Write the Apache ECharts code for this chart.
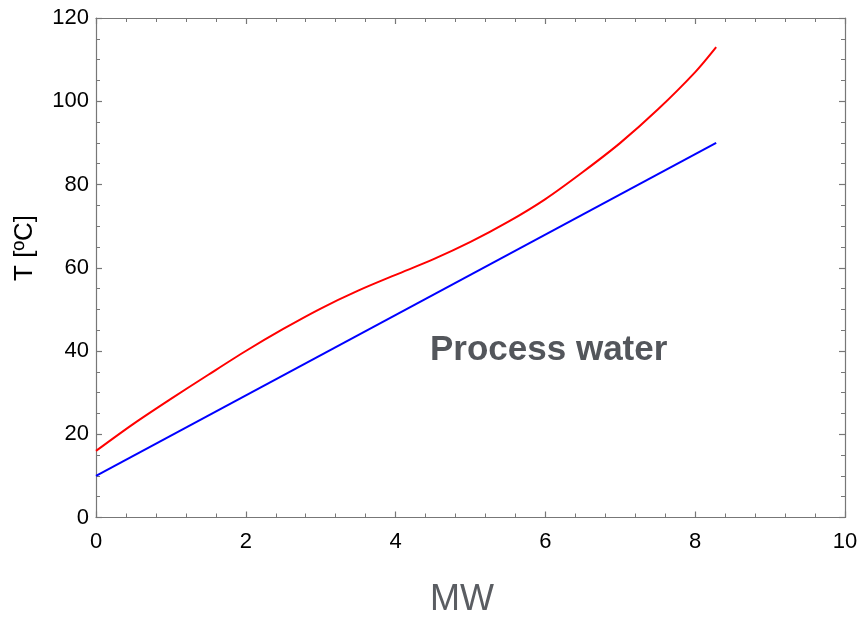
<!DOCTYPE html>
<html>
<head>
<meta charset="utf-8">
<script src="https://cdn.jsdelivr.net/npm/echarts@6/dist/echarts.min.js"></script>
<style>
  html, body { margin: 0; padding: 0; background: #fff; }
  #chart { width: 861px; height: 620px; }
</style>
</head>
<body>
<div id="chart"></div>
<script>
// Heat load (MW) on x, temperature on y
const mwPoints = [0, 0.5, 1, 1.5, 2, 2.5, 3, 3.5, 4, 4.5, 5, 5.5, 6, 6.5, 7, 7.5, 8, 8.28];
const hotSideTemps = [16, 22.5, 28.5, 34.3, 40, 45.3, 50.2, 54.5, 58.3, 62, 66.2, 71, 76.5, 83, 90, 98, 107, 113];
const waterMw = [0, 8.28];
const waterTemps = [10, 90];

const xTicks = { min: 0, max: 10, interval: 2 };
const yTicks = { min: 0, max: 120, interval: 20 };

const frameColor = '#777';
const labelFont = { fontFamily: 'Liberation Sans, Arial, sans-serif', fontSize: 22, color: '#000' };

function frameAxis(extra) {
  return Object.assign({
    type: 'value',
    axisLine: { show: true, onZero: false, lineStyle: { color: frameColor, width: 1.2 } },
    axisTick: { show: true, inside: true, length: 6, lineStyle: { color: frameColor, width: 1.2 } },
    splitLine: { show: false },
    minorSplitLine: { show: false }
  }, extra);
}

const chart = echarts.init(document.getElementById('chart'), null, { renderer: 'canvas' });

chart.setOption({
  animation: false,
  backgroundColor: '#fff',
  grid: { left: 96, top: 18, width: 749, height: 499.5 },
  xAxis: [
    frameAxis(Object.assign({}, xTicks, {
      position: 'bottom',
      minorTick: { show: true, splitNumber: 5, length: 4, lineStyle: { color: frameColor, width: 1 } },
      axisLabel: Object.assign({ margin: 13 }, labelFont)
    })),
    frameAxis(Object.assign({}, xTicks, {
      position: 'top',
      minorTick: { show: true, splitNumber: 5, length: 4, lineStyle: { color: frameColor, width: 1 } },
      axisLabel: { show: false }
    }))
  ],
  yAxis: [
    frameAxis(Object.assign({}, yTicks, {
      position: 'left',
      minorTick: { show: true, splitNumber: 4, length: 4, lineStyle: { color: frameColor, width: 1 } },
      axisLabel: Object.assign({ margin: 7 }, labelFont)
    })),
    frameAxis(Object.assign({}, yTicks, {
      position: 'right',
      minorTick: { show: true, splitNumber: 4, length: 4, lineStyle: { color: frameColor, width: 1 } },
      axisLabel: { show: false }
    }))
  ],
  series: [
    {
      type: 'line',
      xAxisIndex: 0,
      yAxisIndex: 0,
      data: mwPoints.map((x, i) => [x, hotSideTemps[i]]),
      smooth: 0.3,
      showSymbol: false,
      lineStyle: { color: '#ff0000', width: 2 }
    },
    {
      type: 'line',
      xAxisIndex: 0,
      yAxisIndex: 0,
      data: waterMw.map((x, i) => [x, waterTemps[i]]),
      showSymbol: false,
      lineStyle: { color: '#0000ff', width: 2 }
    }
  ],
  graphic: [
    {
      type: 'text',
      left: 430,
      top: 333,
      style: {
        text: 'Process water',
        fontFamily: 'Liberation Sans, Arial, sans-serif',
        fontWeight: 'bold',
        fontSize: 35,
        fill: '#53565b'
      }
    },
    {
      type: 'text',
      x: 462,
      y: 600,
      style: {
        text: 'MW',
        fontFamily: 'Liberation Sans, Arial, sans-serif',
        fontSize: 36,
        fill: '#5a5d62',
        align: 'center',
        verticalAlign: 'middle'
      }
    },
    {
      type: 'text',
      x: 25,
      y: 248,
      rotation: Math.PI / 2,
      style: {
        text: 'T [ºC]',
        fontFamily: 'Liberation Sans, Arial, sans-serif',
        fontSize: 26,
        fill: '#000',
        align: 'center',
        verticalAlign: 'middle'
      }
    }
  ]
});
</script>
</body>
</html>
